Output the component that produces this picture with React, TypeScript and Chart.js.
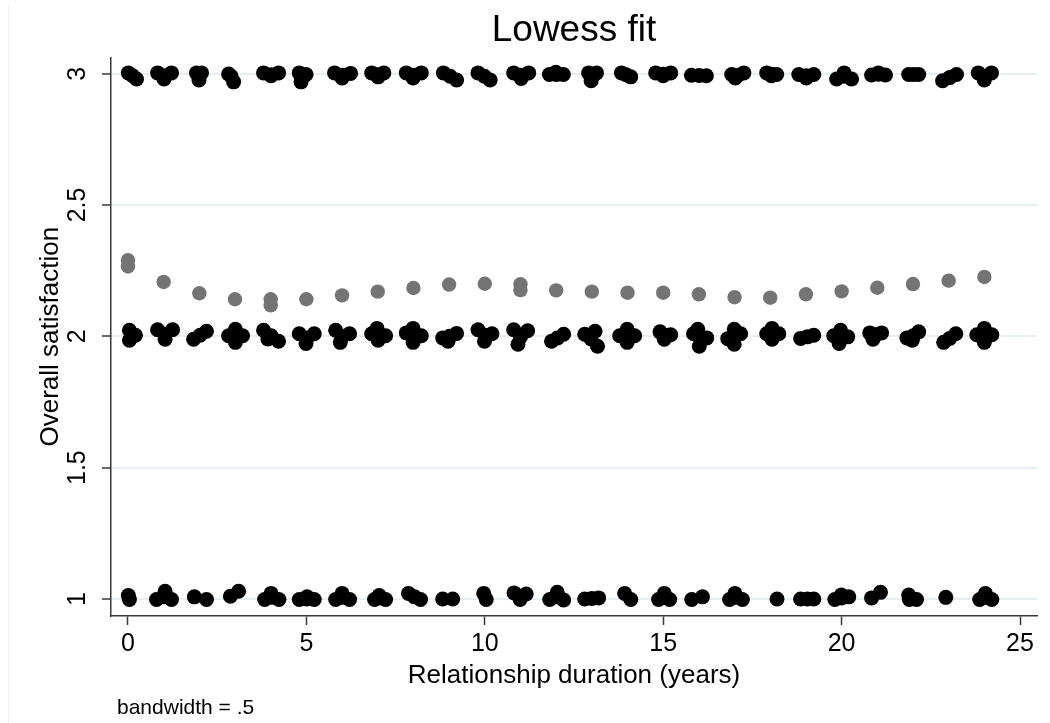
import React, { useEffect, useRef } from "react";
import { Chart, registerables } from "chart.js";

Chart.register(...registerables);

const chartTitle = "Lowess fit";
const xAxisTitle = "Relationship duration (years)";
const yAxisTitle = "Overall satisfaction";
const noteText = "bandwidth = .5";

const xTickValues = [0, 5, 10, 15, 20, 25];
const yTickValues = [1, 1.5, 2, 2.5, 3];
const yTickLabels = ["1", "1.5", "2", "2.5", "3"];

// Jittered observations (duration, satisfaction) for satisfaction = 3
const sat3Points: [number, number][] = [
  [0.01, 3.003], [0.24, 2.98], [0.13, 2.992],
  [0.83, 3.003], [1.22, 3.003], [1.01, 2.98], [1.02, 2.992],
  [1.92, 3.003], [2.06, 3.003], [1.99, 2.976], [1.99, 2.992],
  [2.82, 2.999], [2.96, 2.969], [2.89, 2.99],
  [3.8, 3.003], [4.22, 3.003], [4.01, 2.992], [4.01, 2.996],
  [4.8, 3.003], [4.99, 2.997], [4.85, 2.969], [4.91, 2.99],
  [5.79, 3.003], [6.24, 3.001], [6.0, 2.984], [6.01, 2.994],
  [6.83, 3.003], [7.17, 3.003], [7.01, 2.988], [6.99, 2.996],
  [7.8, 3.003], [8.22, 3.003], [7.99, 2.984], [8.02, 2.994],
  [8.84, 3.003], [9.21, 2.976], [9.03, 2.99],
  [9.81, 3.003], [10.15, 2.976], [9.99, 2.99],
  [10.81, 3.003], [11.23, 3.003], [11.02, 2.982], [11.02, 2.994],
  [11.81, 2.997], [12.2, 2.997], [11.99, 3.005], [12.01, 2.997],
  [12.91, 3.003], [13.13, 3.003], [12.98, 2.973], [13.02, 2.99],
  [13.83, 3.003], [14.09, 2.988], [13.96, 2.996],
  [14.79, 3.003], [15.21, 3.003], [15.0, 2.992], [15.0, 2.998],
  [15.79, 2.994], [16.21, 2.992], [16.01, 2.993],
  [16.92, 2.997], [17.26, 3.003], [17.02, 2.984], [17.09, 2.993],
  [17.9, 3.003], [18.18, 2.997], [18.03, 2.992], [18.04, 2.998],
  [18.8, 2.997], [19.22, 2.997], [19.01, 2.984], [19.01, 2.992],
  [19.86, 2.98], [20.28, 2.98], [20.07, 3.003], [20.07, 2.99],
  [20.84, 2.995], [21.23, 2.995], [21.03, 3.003], [21.04, 2.998],
  [21.88, 2.997], [22.16, 2.997], [22.02, 2.997],
  [22.83, 2.973], [23.22, 2.997], [23.03, 2.985],
  [23.83, 3.003], [24.2, 3.003], [24.0, 2.976], [24.03, 2.99],
];

// Jittered observations for satisfaction = 2
const sat2Points: [number, number][] = [
  [0.04, 2.023], [0.04, 1.985], [0.21, 2.004], [0.13, 2.004],
  [0.83, 2.025], [1.25, 2.025], [1.04, 1.989], [1.04, 2.008],
  [1.84, 1.989], [2.2, 2.019], [2.02, 2.004],
  [2.82, 2.002], [3.21, 2.002], [3.01, 2.027], [3.01, 1.977], [3.01, 2.002],
  [3.8, 2.023], [4.22, 1.981], [3.92, 1.99], [4.01, 2.002],
  [4.8, 2.01], [5.22, 2.01], [4.99, 1.973], [5.02, 1.994],
  [5.82, 2.023], [6.21, 2.01], [5.95, 1.977], [6.01, 2.0],
  [6.83, 2.01], [7.22, 2.002], [6.98, 2.03], [7.01, 1.985], [7.02, 2.008],
  [7.8, 2.013], [8.22, 2.002], [7.99, 2.03], [7.99, 1.977], [8.02, 2.004],
  [8.82, 1.994], [9.21, 2.011], [8.97, 1.981], [9.01, 2.0],
  [9.81, 2.025], [10.2, 2.01], [9.99, 1.981], [10.02, 2.004],
  [10.81, 2.025], [11.2, 2.021], [10.93, 1.97], [11.0, 1.998],
  [11.87, 1.981], [12.21, 2.008], [12.04, 1.994],
  [12.8, 2.008], [13.09, 2.019], [13.16, 1.962], [12.98, 1.99],
  [13.78, 2.002], [14.2, 2.002], [13.99, 2.027], [13.99, 1.977], [13.99, 2.002],
  [14.91, 2.017], [15.21, 2.006], [15.03, 1.989], [15.05, 2.004],
  [15.85, 2.01], [16.22, 1.994], [15.97, 2.027], [16.01, 1.962], [16.04, 1.994],
  [16.81, 1.991], [17.17, 2.01], [16.99, 2.027], [16.99, 1.97], [16.99, 1.998],
  [17.9, 2.01], [18.24, 2.01], [18.05, 2.03], [18.05, 1.989], [18.07, 2.01],
  [18.85, 1.992], [19.22, 2.004], [19.04, 1.998],
  [19.78, 2.002], [20.17, 1.998], [19.97, 2.023], [19.93, 1.973], [19.97, 1.998],
  [20.79, 2.013], [21.12, 2.013], [20.88, 1.989], [20.96, 2.006],
  [21.83, 1.994], [22.16, 2.017], [21.98, 1.985], [22.01, 2.002],
  [22.86, 1.977], [23.2, 2.01], [23.03, 1.992],
  [23.79, 2.006], [24.21, 2.006], [24.0, 2.03], [24.0, 1.977], [24.0, 2.004],
];

// Jittered observations for satisfaction = 1
const sat1Points: [number, number][] = [
  [0.01, 1.013], [0.04, 0.998],
  [0.8, 0.998], [1.22, 0.998], [1.04, 1.029], [1.01, 1.008],
  [1.86, 1.008], [2.2, 0.998],
  [2.87, 1.01], [3.1, 1.029],
  [3.83, 0.998], [4.23, 0.998], [4.01, 1.021], [4.03, 1.006],
  [4.8, 0.998], [5.22, 0.998], [5.02, 1.008], [5.01, 1.0],
  [5.82, 0.998], [6.21, 0.998], [6.0, 1.021], [6.01, 1.006],
  [6.91, 0.998], [7.22, 0.998], [7.04, 1.013], [7.06, 1.004],
  [7.86, 1.021], [8.2, 0.998], [8.03, 1.008],
  [8.82, 1.0], [9.1, 1.0],
  [9.97, 1.021], [10.04, 0.998],
  [10.82, 1.023], [11.16, 1.019], [10.99, 0.998], [11.0, 1.01],
  [11.82, 0.998], [12.21, 0.996], [12.03, 1.025], [12.01, 1.008],
  [12.8, 1.0], [13.19, 1.004], [13.0, 1.002],
  [13.92, 1.021], [14.09, 0.998],
  [14.87, 0.998], [15.18, 0.998], [15.03, 1.021], [15.03, 1.006],
  [15.8, 0.998], [16.1, 1.008],
  [16.86, 0.998], [17.22, 0.998], [17.01, 1.021], [17.04, 1.006],
  [18.19, 1.0],
  [18.85, 1.0], [19.22, 1.0], [19.04, 1.0],
  [19.81, 0.998], [20.2, 1.008], [19.99, 1.015], [20.0, 1.004],
  [20.84, 1.004], [21.09, 1.025],
  [21.88, 1.015], [22.1, 0.998], [21.9, 0.998],
  [22.92, 1.006],
  [23.87, 0.998], [24.21, 0.998], [24.03, 1.021], [24.04, 1.006],
];

// Lowess smoothed values
const fitX = [0, 0, 1, 2, 3, 4, 4, 5, 6, 7, 8, 9, 10, 11, 11, 12, 13, 14, 15, 16, 17, 18, 19, 20, 21, 22, 23, 24];
const fitY = [2.29, 2.266, 2.207, 2.164, 2.141, 2.141, 2.118, 2.141, 2.156, 2.17, 2.184, 2.197, 2.2, 2.198, 2.176, 2.175, 2.17, 2.166, 2.166, 2.16, 2.149, 2.147, 2.16, 2.171, 2.185, 2.199, 2.212, 2.226];

const FONT = "'Liberation Sans', Arial, Helvetica, sans-serif";
const AXIS_COLOR = "#383838";
const GRID_COLOR = "#e6eef1";

const toXY = (pts: [number, number][]) => pts.map(([x, y]) => ({ x, y }));

const extrasPlugin = {
  id: "extras",
  beforeDraw(chart: any) {
    const ctx = chart.ctx;
    ctx.save();
    ctx.strokeStyle = "#edf1f3";
    ctx.lineWidth = 1;
    ctx.beginPath();
    ctx.moveTo(8.5, 5);
    ctx.lineTo(8.5, 723);
    ctx.stroke();
    ctx.restore();
  },
  afterDraw(chart: any) {
    const ctx = chart.ctx;
    ctx.save();
    ctx.font = `21px ${FONT}`;
    ctx.fillStyle = "#000";
    ctx.textAlign = "left";
    ctx.textBaseline = "middle";
    ctx.fillText(noteText, 117, 708);
    ctx.restore();
  },
};

export default function App() {
  const canvasRef = useRef<HTMLCanvasElement | null>(null);

  useEffect(() => {
    if (!canvasRef.current) return;
    const pointStyle = { pointRadius: 7.5, pointHoverRadius: 7.5, borderWidth: 0 };
    const chart = new Chart(canvasRef.current, {
      type: "scatter",
      data: {
        datasets: [
          { label: "fit", data: fitX.map((x, i) => ({ x, y: fitY[i] })), backgroundColor: "#747474", ...pointStyle, pointRadius: 7.2 },
          { label: "3", data: toXY(sat3Points), backgroundColor: "#000", ...pointStyle },
          { label: "2", data: toXY(sat2Points), backgroundColor: "#000", ...pointStyle },
          { label: "1", data: toXY(sat1Points), backgroundColor: "#000", ...pointStyle },
        ],
      },
      options: {
        responsive: false,
        animation: false,
        devicePixelRatio: 1,
        layout: { padding: { left: 0, right: 13, top: 0, bottom: 0 } },
        plugins: {
          legend: { display: false },
          tooltip: { enabled: false },
          title: {
            display: true,
            text: chartTitle,
            fullSize: false,
            color: "#000",
            font: { family: FONT, size: 37, weight: "normal" },
            padding: { top: 9, bottom: 4 },
          },
        },
        scales: {
          x: {
            type: "linear",
            min: -0.476,
            max: 25.476,
            afterFit: (s: any) => { s.height = 107; },
            afterBuildTicks: (s: any) => { s.ticks = xTickValues.map((v) => ({ value: v })); },
            grid: { display: true, drawOnChartArea: false, drawTicks: true, tickLength: 9, tickColor: AXIS_COLOR, tickWidth: 1.5 },
            border: { display: true, color: AXIS_COLOR, width: 1.5 },
            ticks: { color: "#000", font: { family: FONT, size: 25 }, padding: 4, maxRotation: 0, minRotation: 0, callback: (v: any) => String(v) },
            title: { display: true, text: xAxisTitle, color: "#000", font: { family: FONT, size: 26 }, padding: { top: 0, bottom: 32 } },
          },
          y: {
            type: "linear",
            min: 0.935,
            max: 3.062,
            afterFit: (s: any) => { s.width = 111; },
            afterBuildTicks: (s: any) => { s.ticks = yTickValues.map((v) => ({ value: v })); },
            grid: { display: true, color: GRID_COLOR, lineWidth: 2, drawTicks: true, tickLength: 9, tickColor: AXIS_COLOR, tickWidth: 1.5 },
            border: { display: true, color: AXIS_COLOR, width: 1.5 },
            ticks: {
              color: "#000",
              font: { family: FONT, size: 25 },
              padding: 7,
              minRotation: 90,
              maxRotation: 90,
              crossAlign: "center",
              callback: (v: any) => {
                const i = yTickValues.indexOf(Number(v));
                return i >= 0 ? yTickLabels[i] : "";
              },
            },
            title: { display: true, text: yAxisTitle, color: "#000", font: { family: FONT, size: 26 }, padding: { top: 35, bottom: 0 } },
          },
        },
      },
      plugins: [extrasPlugin],
    } as any);
    return () => chart.destroy();
  }, []);

  return (
    <canvas
      ref={canvasRef}
      width={1050}
      height={723}
      style={{ position: "absolute", left: 0, top: 0, width: 1050, height: 723, display: "block", background: "#fff" }}
    />
  );
}
